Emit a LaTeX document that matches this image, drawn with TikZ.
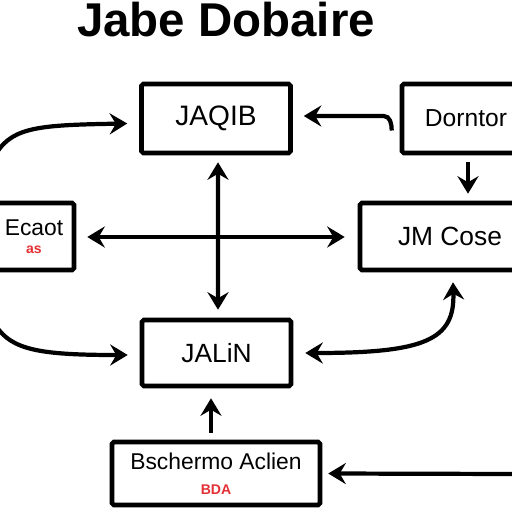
\documentclass[tikz,border=0pt]{standalone}
\usepackage{fontspec}
\setmainfont{Liberation Sans}
\usetikzlibrary{arrows.meta,calc,positioning}
\definecolor{scribred}{RGB}{228,48,52}
\tikzset{
    block/.style = {draw, rectangle, line width=2.6pt,
        rounded corners=1pt, inner sep=2pt},
    arrow/.style = {draw, line width=2.4pt, ->},
    dblarrow/.style = {draw, line width=2.4pt, <->}
}

\begin{document}
\begin{tikzpicture}[x=0.02cm, y=-0.02cm,
    >={Stealth[length=10pt,width=12pt,inset=3.5pt]}]
    \clip (0,0) rectangle (512,512);
    \fill[white] (0,0) rectangle (512,512);
    % title
    \node[anchor=base, font=\fontsize{27}{27}\selectfont\bfseries] (title) at (226,36) {Jabe Dobaire};
    % boxes
    \node[block, minimum width=2.98cm, minimum height=1.38cm, font=\fontsize{16}{16}\selectfont] (jaqib) at (216,118.5) {JAQIB};
    \node[block, minimum width=2.56cm, minimum height=1.38cm, font=\fontsize{14}{14}\selectfont] (dorntor) at (466,118.5) {Dorntor};
    \node[block, minimum width=1.6cm, minimum height=1.34cm, align=center, font=\fontsize{13}{13}\selectfont] (ecaot) at (34,236.5) {Ecaot\\[-3pt]{\color{scribred}\fontsize{8}{8}\selectfont\bfseries as}};
    \node[block, minimum width=3.6cm, minimum height=1.34cm, font=\fontsize{15}{15}\selectfont] (jmcose) at (450,236.5) {JM Cose};
    \node[block, minimum width=2.98cm, minimum height=1.32cm, font=\fontsize{15}{15}\selectfont] (jalin) at (216.5,353) {JALiN};
    \node[block, minimum width=4.16cm, minimum height=1.26cm, align=center, font=\fontsize{13}{13}\selectfont] (bsch) at (216,473.5) {Bschermo Aclien\\[1pt]{\color{scribred}\fontsize{8}{8}\selectfont\bfseries BDA}};
    % free ends
    \coordinate (inA) at (-3,152);
    \coordinate (inB) at (-4,326);
    \coordinate (inC) at (516,474);
    % connectors
    \draw[arrow] (inA) .. controls (14,127) and (40,125) .. ($(jaqib.west)+(-12,5)$);
    \draw[arrow] ($(dorntor.west)+(-8,12)$) to[out=90,in=0] ($(dorntor.west)+(-16,-2.5)$) -- ($(jaqib.east)+(11,-2.5)$);
    \draw[arrow] ($(dorntor.south)+(2,7)$) -- ($(dorntor.south |- jmcose.north)+(2,-7)$);
    \draw[dblarrow] ($(jaqib.south)+(2,7)$) -- ($(jalin.north)+(1.5,-8)$);
    \draw[dblarrow] ($(ecaot.east)+(11,0.5)$) -- ($(jmcose.west)+(-13,0.5)$);
    \draw[arrow] (inB) .. controls (12,350) and (40,355) .. ($(jalin.west)+(-12,2)$);
    \draw[dblarrow] ($(jalin.east)+(12,0)$) .. controls (425,353) and (455,340) .. ($(jmcose.south)+(3,10)$);
    \draw[arrow] ($(bsch.north)+(-5,-7)$) -- ($(jalin.south)+(-5.5,10)$);
    \draw[arrow] (inC) -- ($(bsch.east)+(6,0)$);
\end{tikzpicture}
\end{document}
